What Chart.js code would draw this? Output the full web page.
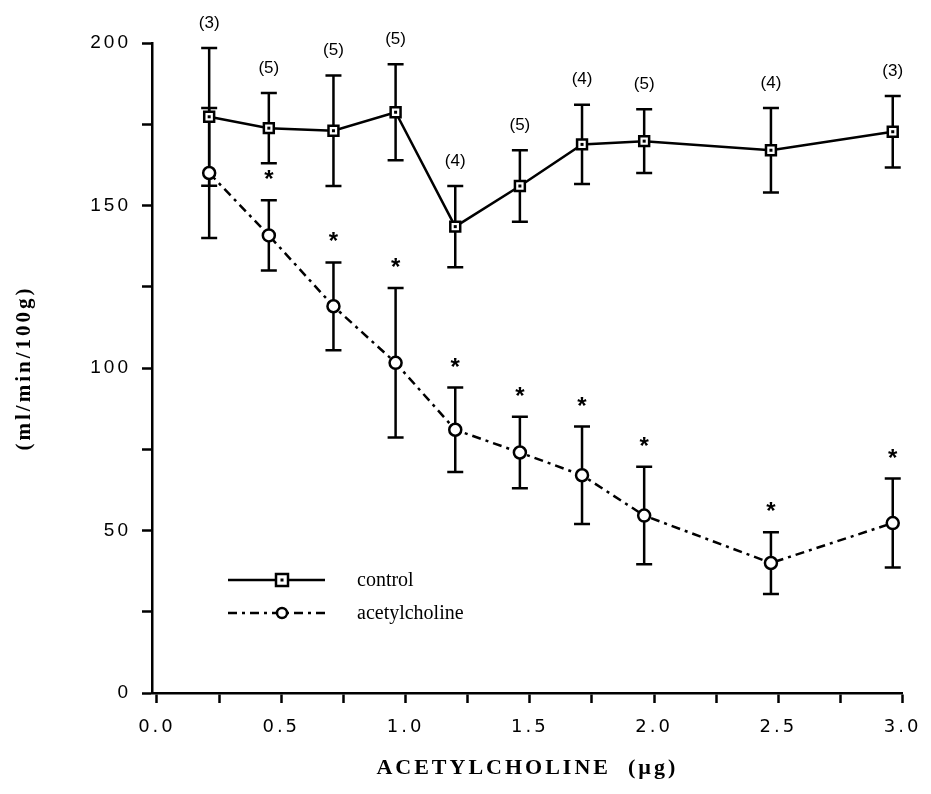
<!DOCTYPE html>
<html>
<head>
<meta charset="utf-8">
<script src="https://cdn.jsdelivr.net/npm/chart.js@4.4.1/dist/chart.umd.min.js"></script>
<style>
  html, body { margin: 0; padding: 0; background: #fff; }
  canvas { display: block; }
</style>
</head>
<body>
<canvas id="chart" width="931" height="794"></canvas>
<script>
// doses (x positions)
const doses = [0.21, 0.45, 0.71, 0.96, 1.20, 1.46, 1.71, 1.96, 2.47, 2.96];

// control series
const control = [177.3, 173.8, 173.0, 178.7, 143.5, 156.0, 168.8, 169.8, 167.0, 172.7];
const controlErr = [21.2, 10.8, 17.0, 14.8, 12.5, 11.0, 12.2, 9.8, 13.0, 11.0];
const controlN = ['(3)', '(5)', '(5)', '(5)', '(4)', '(5)', '(4)', '(5)', '(4)', '(3)'];

// acetylcholine series
const ach = [160.0, 140.8, 119.0, 101.6, 81.0, 74.0, 67.0, 54.6, 40.0, 52.3];
const achErr = [20.0, 10.8, 13.5, 23.0, 13.0, 11.0, 15.0, 15.0, 9.5, 13.7];
const achSig = [false, true, true, true, true, true, true, true, true, true];

// axis ticks
const xTicks = [0, 0.25, 0.5, 0.75, 1.0, 1.25, 1.5, 1.75, 2.0, 2.25, 2.5, 2.75, 3.0];
const yTicks = [0, 25, 50, 75, 100, 125, 150, 175, 200];

const pts = (ys) => doses.map((d, i) => ({ x: d, y: ys[i] }));

const extras = {
  id: 'extras',
  beforeDraw(chart) {
    // the scanned axes use widely spaced lettering
    chart.ctx.letterSpacing = '3px';
  },
  beforeDatasetsDraw(chart) {
    const { ctx, scales: { x, y } } = chart;
    ctx.letterSpacing = '0px';
    ctx.save();
    ctx.strokeStyle = '#000';
    ctx.lineWidth = 2.5;
    const bars = (vals, errs) => {
      vals.forEach((v, i) => {
        const px = x.getPixelForValue(doses[i]);
        const top = y.getPixelForValue(v + errs[i]);
        const bot = y.getPixelForValue(v - errs[i]);
        ctx.beginPath();
        ctx.moveTo(px, top); ctx.lineTo(px, bot);
        ctx.moveTo(px - 8, top); ctx.lineTo(px + 8, top);
        ctx.moveTo(px - 8, bot); ctx.lineTo(px + 8, bot);
        ctx.stroke();
      });
    };
    bars(control, controlErr);
    bars(ach, achErr);
    ctx.restore();
  },
  afterDatasetsDraw(chart) {
    const { ctx, chartArea, scales: { x, y } } = chart;
    ctx.save();
    ctx.fillStyle = '#000';
    // dots inside the squares
    control.forEach((v, i) => {
      ctx.fillRect(x.getPixelForValue(doses[i]) - 1.5, y.getPixelForValue(v) - 1.5, 3, 3);
    });
    // n labels over the control bars
    ctx.font = '17px "Liberation Sans", Arial, sans-serif';
    ctx.textAlign = 'center';
    ctx.textBaseline = 'middle';
    control.forEach((v, i) => {
      ctx.fillText(controlN[i], x.getPixelForValue(doses[i]), y.getPixelForValue(v + controlErr[i]) - 25);
    });
    // significance stars over the acetylcholine bars
    ctx.font = 'bold 24px "Liberation Sans", Arial, sans-serif';
    ctx.textBaseline = 'alphabetic';
    ach.forEach((v, i) => {
      if (!achSig[i]) return;
      ctx.fillText('*', x.getPixelForValue(doses[i]), y.getPixelForValue(v + achErr[i]) - 26 + 13);
    });
    // legend
    const lx0 = chartArea.left + 76, lx1 = chartArea.left + 173, mx = chartArea.left + 130;
    const ly1 = chartArea.top + 537, ly2 = chartArea.top + 570;
    ctx.strokeStyle = '#000';
    ctx.lineWidth = 2.5;
    ctx.beginPath(); ctx.moveTo(lx0, ly1); ctx.lineTo(lx1, ly1); ctx.stroke();
    ctx.setLineDash([9, 5, 3, 5]);
    ctx.beginPath(); ctx.moveTo(lx0, ly2); ctx.lineTo(lx1, ly2); ctx.stroke();
    ctx.setLineDash([]);
    ctx.fillStyle = '#fff';
    ctx.fillRect(mx - 6, ly1 - 6, 12, 12);
    ctx.strokeRect(mx - 6, ly1 - 6, 12, 12);
    ctx.fillStyle = '#000';
    ctx.fillRect(mx - 1.5, ly1 - 1.5, 3, 3);
    ctx.fillStyle = '#fff';
    ctx.beginPath(); ctx.arc(mx, ly2, 5, 0, Math.PI * 2); ctx.fill(); ctx.stroke();
    ctx.fillStyle = '#000';
    ctx.font = '20px "Liberation Serif", "Times New Roman", serif';
    ctx.textAlign = 'left';
    ctx.textBaseline = 'middle';
    ctx.fillText('control', chartArea.left + 205, ly1 + 1);
    ctx.fillText('acetylcholine', chartArea.left + 205, ly2 + 1);
    ctx.restore();
  }
};

new Chart(document.getElementById('chart'), {
  type: 'line',
  data: {
    datasets: [
      {
        label: 'control',
        data: pts(control),
        borderColor: '#000',
        borderWidth: 2.5,
        pointStyle: 'rect',
        pointRadius: 7,
        pointBorderWidth: 2.5,
        pointBackgroundColor: '#fff',
        pointBorderColor: '#000',
        tension: 0,
        clip: false
      },
      {
        label: 'acetylcholine',
        data: pts(ach),
        borderColor: '#000',
        borderWidth: 2.5,
        borderDash: [9, 5, 3, 5],
        pointStyle: 'circle',
        pointRadius: 6,
        pointBorderWidth: 2.5,
        pointBackgroundColor: '#fff',
        pointBorderColor: '#000',
        tension: 0,
        clip: false
      }
    ]
  },
  options: {
    responsive: false,
    animation: false,
    devicePixelRatio: 1,
    layout: { padding: { top: 43, right: 24, left: 0, bottom: 0 } },
    plugins: { legend: { display: false }, tooltip: { enabled: false } },
    scales: {
      x: {
        type: 'linear',
        min: -0.02,
        max: 3.0,
        afterBuildTicks: (s) => { s.ticks = xTicks.map(v => ({ value: v })); },
        afterFit: (s) => { s.height = 101; },
        border: { display: true, color: '#000', width: 2.5 },
        grid: { drawOnChartArea: false, drawTicks: true, tickLength: 10, tickColor: '#000', tickWidth: 2.5 },
        ticks: {
          color: '#000',
          padding: 14,
          maxRotation: 0,
          autoSkip: false,
          font: { family: '"DejaVu Sans", sans-serif', size: 18 },
          callback: (v) => (Math.abs(v * 2 - Math.round(v * 2)) < 1e-6 ? v.toFixed(1) : '')
        },
        title: {
          display: true,
          text: 'ACETYLCHOLINE  (µg)',
          color: '#000',
          font: { family: '"Liberation Serif", "Times New Roman", serif', size: 22, weight: 'bold' },
          padding: { top: 0, bottom: 12 }
        }
      },
      y: {
        min: 0,
        max: 200,
        afterBuildTicks: (s) => { s.ticks = yTicks.map(v => ({ value: v })); },
        afterFit: (s) => { s.width = 152; },
        border: { display: true, color: '#000', width: 2.5 },
        grid: { drawOnChartArea: false, drawTicks: true, tickLength: 10, tickColor: '#000', tickWidth: 2.5 },
        ticks: {
          color: '#000',
          padding: 11,
          autoSkip: false,
          font: { family: '"Liberation Sans", Arial, sans-serif', size: 19 },
          callback: (v) => (v % 50 === 0 ? String(v) : '')
        },
        title: {
          display: true,
          text: '(ml/min/100g)',
          color: '#000',
          font: { family: '"Liberation Serif", "Times New Roman", serif', size: 21, weight: 'bold' },
          padding: { top: 12, bottom: 0 }
        }
      }
    }
  },
  plugins: [extras]
});
</script>
</body>
</html>
